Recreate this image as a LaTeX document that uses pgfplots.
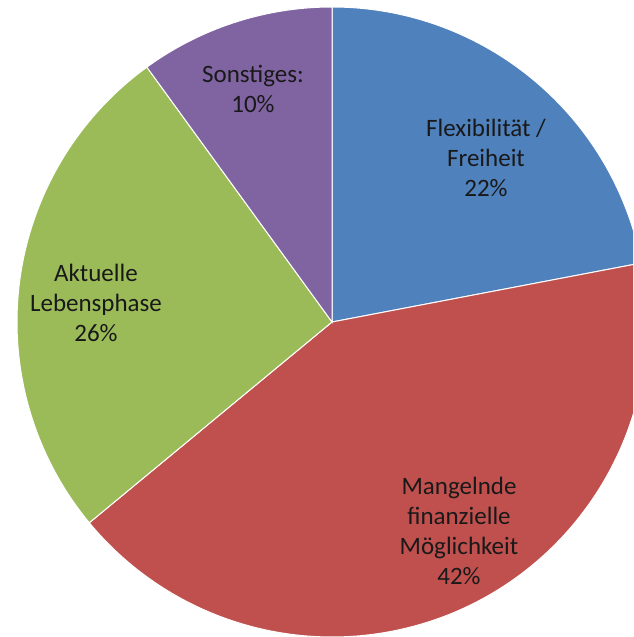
\documentclass[border=0pt]{standalone}
\usepackage{pgfplots}
\pgfplotsset{compat=1.18}
\usepackage{pgfplotstable}
\usepackage{fontspec}
\setmainfont{Carlito}

\definecolor{pie0}{HTML}{4F81BD}
\definecolor{pie1}{HTML}{C0504D}
\definecolor{pie2}{HTML}{9BBB59}
\definecolor{pie3}{HTML}{8064A2}

% shares in percent, clockwise from 12 o'clock
\pgfplotstableread{
value
22
42
26
10
}\piedata

% start/end angles of each slice
\def\cum{90}
\pgfplotsforeachungrouped \i in {0,...,3}{%
  \pgfplotstablegetelem{\i}{value}\of\piedata
  \pgfmathsetmacro\endang{\cum - 3.6*\pgfplotsretval}%
  \expandafter\xdef\csname pieS\i\endcsname{\cum}%
  \expandafter\xdef\csname pieE\i\endcsname{\endang}%
  \global\let\cum\endang
}

\begin{document}
\begin{tikzpicture}
\begin{axis}[
    x=0.5pt, y=0.5pt,
    xmin=0, xmax=633, ymin=0, ymax=637,
    hide axis,
    clip=true,
]
\pgfplotsinvokeforeach{0,...,3}{
  \fill[pie#1, draw=white, line width=0.5pt]
    (axis cs:332,315) -- ++(\csname pieS#1\endcsname:157.5pt)
    arc[start angle=\csname pieS#1\endcsname, end angle=\csname pieE#1\endcsname, radius=157.5pt] -- cycle;
}
\tikzset{lbl/.style={align=center, inner sep=0pt, text=black!90, font=\fontsize{12.5}{15}\selectfont}}
\node[lbl] at (axis cs:486,479) {Flexibilität /\\Freiheit\\22\%};
\node[lbl] at (axis cs:459,106.5) {Mangelnde\\finanzielle\\Möglichkeit\\42\%};
\node[lbl] at (axis cs:96,334) {Aktuelle\\Lebensphase\\26\%};
\node[lbl] at (axis cs:253,548.5) {Sonstiges:\\10\%};
\end{axis}
\pgfresetboundingbox
\path (0,0) rectangle (316.5pt,318.5pt);
\end{tikzpicture}
\end{document}
